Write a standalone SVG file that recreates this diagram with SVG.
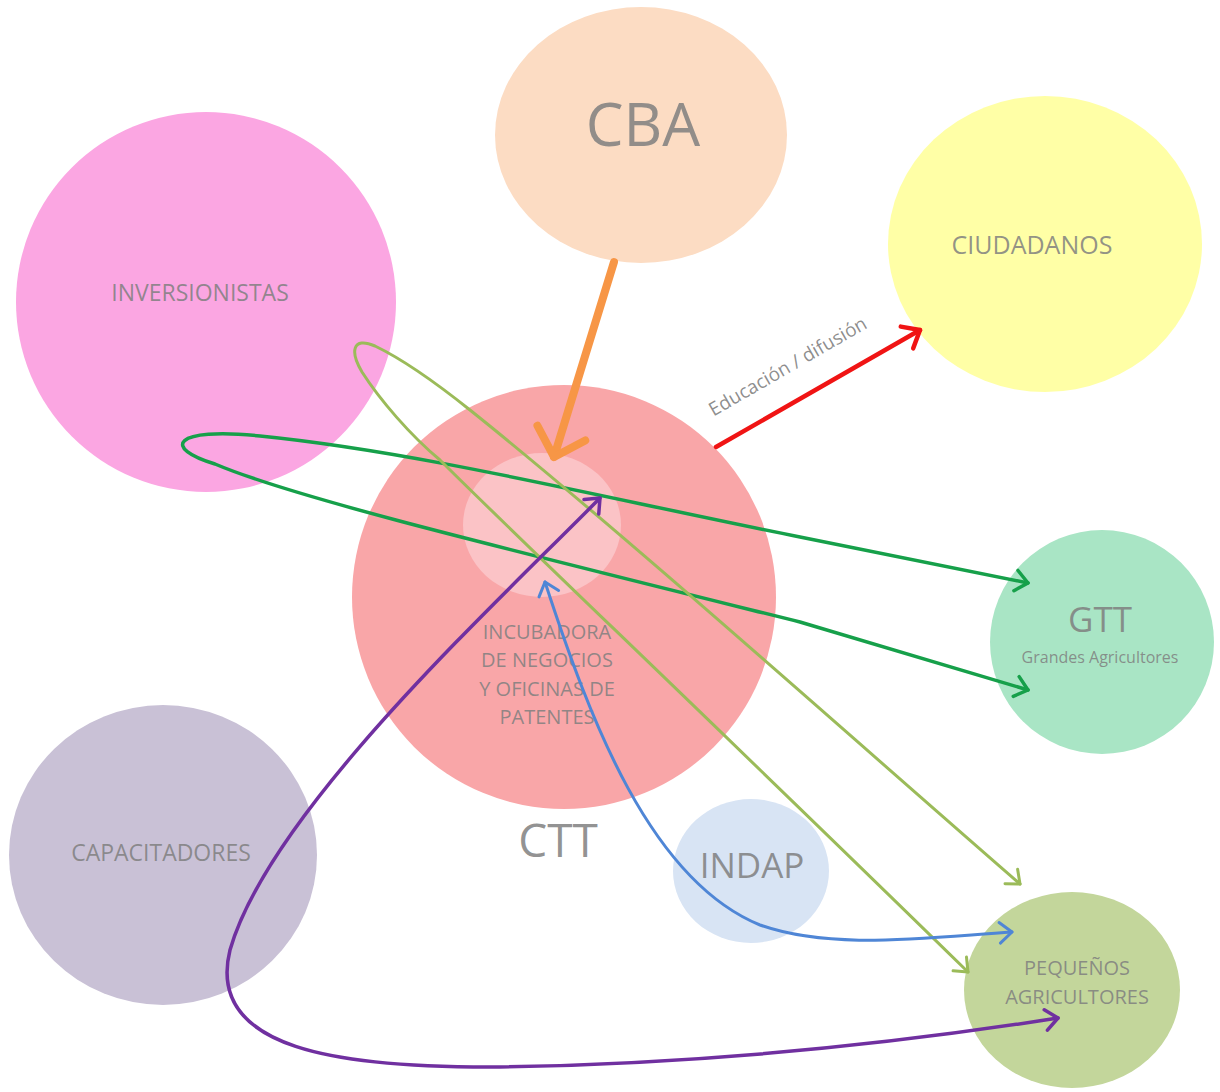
<svg xmlns="http://www.w3.org/2000/svg" width="1220" height="1092" viewBox="0 0 1220 1092">
<style>
  .lbl { font-family: "Open Sans", "Liberation Sans", sans-serif; fill: #7f7f7f; fill-opacity: 0.85; text-anchor: middle; }
  .conn { fill: none; stroke-linecap: round; stroke-linejoin: round; }
  .head { fill: none; stroke-linecap: round; stroke-linejoin: round; }
</style>
<defs>
  <marker id="mGreen" markerUnits="userSpaceOnUse" viewBox="-40 -30 50 60" markerWidth="50" markerHeight="60" refX="0" refY="0" orient="auto-start-reverse">
    <path class="head" d="M-12.3,-10.3 L0,0 L-12.3,10.3" stroke="#16a04a" stroke-width="3.5"/>
  </marker>
  <marker id="mOlive" markerUnits="userSpaceOnUse" viewBox="-40 -30 50 60" markerWidth="50" markerHeight="60" refX="0" refY="0" orient="auto-start-reverse">
    <path class="head" d="M-11.5,-9.6 L0,0 L-11.5,9.6" stroke="#9bbb59" stroke-width="3"/>
  </marker>
  <marker id="mBlue" markerUnits="userSpaceOnUse" viewBox="-40 -30 50 60" markerWidth="50" markerHeight="60" refX="0" refY="0" orient="auto-start-reverse">
    <path class="head" d="M-12.3,-10.3 L0,0 L-12.3,10.3" stroke="#4f86d6" stroke-width="3"/>
  </marker>
  <marker id="mPurple" markerUnits="userSpaceOnUse" viewBox="-40 -30 50 60" markerWidth="50" markerHeight="60" refX="0" refY="0" orient="auto-start-reverse">
    <path class="head" d="M-12.3,-10.3 L0,0 L-12.3,10.3" stroke="#7030a0" stroke-width="3.5"/>
  </marker>
  <marker id="mRed" markerUnits="userSpaceOnUse" viewBox="-40 -30 50 60" markerWidth="50" markerHeight="60" refX="0" refY="0" orient="auto">
    <path class="head" d="M-15,-12.5 L0,0 L-15,12.5" stroke="#f01414" stroke-width="4.5"/>
  </marker>
  <marker id="mOrange" markerUnits="userSpaceOnUse" viewBox="-40 -40 50 80" markerWidth="50" markerHeight="80" refX="0" refY="0" orient="auto">
    <path class="head" d="M-25,-25 L0,0 L-25,25" stroke="#f79646" stroke-width="8"/>
  </marker>
</defs>

<rect x="0" y="0" width="1220" height="1092" fill="#ffffff"/>

<g id="node-inversionistas">
  <circle cx="206" cy="302" r="190" fill="#fba6e2"/>
  <text class="lbl" x="200" y="301" font-size="23">INVERSIONISTAS</text>
</g>
<g id="node-cba">
  <ellipse cx="641" cy="135" rx="146" ry="128" fill="#fcdcc3"/>
  <text class="lbl" x="643" y="146" font-size="60">CBA</text>
</g>
<g id="node-ciudadanos">
  <ellipse cx="1045" cy="244" rx="157" ry="148" fill="#ffffa6"/>
  <text class="lbl" x="1032" y="254" font-size="25">CIUDADANOS</text>
</g>
<g id="node-ctt">
  <circle cx="564" cy="597" r="212" fill="#f9a6a8"/>
  <ellipse cx="542" cy="525" rx="79" ry="72" fill="#fbc3c6"/>
  <text class="lbl" x="547" y="639" font-size="20">INCUBADORA</text>
  <text class="lbl" x="547" y="667" font-size="20">DE NEGOCIOS</text>
  <text class="lbl" x="547" y="696" font-size="20">Y OFICINAS DE</text>
  <text class="lbl" x="547" y="724" font-size="20">PATENTES</text>
  <text class="lbl" x="558" y="857" font-size="46">CTT</text>
</g>
<g id="node-gtt">
  <circle cx="1102" cy="642" r="112" fill="#a9e5c5"/>
  <text class="lbl" x="1100" y="632" font-size="35">GTT</text>
  <text class="lbl" x="1100" y="663" font-size="16">Grandes Agricultores</text>
</g>
<g id="node-capacitadores">
  <ellipse cx="163" cy="855" rx="154" ry="150" fill="#c9c1d6"/>
  <text class="lbl" x="161" y="861" font-size="23">CAPACITADORES</text>
</g>
<g id="node-indap">
  <ellipse cx="751" cy="871" rx="78" ry="72" fill="#d8e4f4"/>
  <text class="lbl" x="752" y="878" font-size="35">INDAP</text>
</g>
<g id="node-pequenos">
  <ellipse cx="1072" cy="990" rx="108" ry="98" fill="#c3d69b"/>
  <text class="lbl" x="1077" y="975" font-size="20">PEQUEÑOS</text>
  <text class="lbl" x="1077" y="1004" font-size="20">AGRICULTORES</text>
</g>

<g id="connectors">
  <path id="c-cba-ctt" class="conn" d="M614,262 L554,457" stroke="#f79646" stroke-width="8" marker-end="url(#mOrange)"/>
  <path id="c-ctt-ciudadanos" class="conn" d="M716,447 L920,330" stroke="#f01414" stroke-width="4.5" marker-end="url(#mRed)"/>
  <text class="lbl" x="0" y="0" font-size="19" fill-opacity="1" style="fill:#7a7a7a" transform="translate(791,372) rotate(-30)">Educación / difusión</text>
  <path id="c-inv-gtt" class="conn" d="M1028,583 L800,537 C600,497 420,452 260,436 C172,427 162,448 215,464 C290,496 470,540 800,622 L1028,690" stroke="#16a04a" stroke-width="3.5" marker-start="url(#mGreen)" marker-end="url(#mGreen)"/>
  <path id="c-inv-peq" class="conn" d="M1020,884 C860,745 620,530 470,410 C430,378 400,358 375,346 C352,336 350,352 362,372 C380,400 410,435 440,460 C520,540 700,710 968,972" stroke="#9bbb59" stroke-width="3" marker-start="url(#mOlive)" marker-end="url(#mOlive)"/>
  <path id="c-ctt-peq-blue" class="conn" d="M545,582 C590,720 650,880 760,925 C830,950 920,938 1012,932" stroke="#4f86d6" stroke-width="3" marker-start="url(#mBlue)" marker-end="url(#mBlue)"/>
  <path id="c-cap" class="conn" d="M600,498 C500,600 270,810 230,950 C205,1050 340,1068 500,1067 C750,1063 950,1035 1058,1018" stroke="#7030a0" stroke-width="3.5" marker-start="url(#mPurple)" marker-end="url(#mPurple)"/>
</g>
</svg>
